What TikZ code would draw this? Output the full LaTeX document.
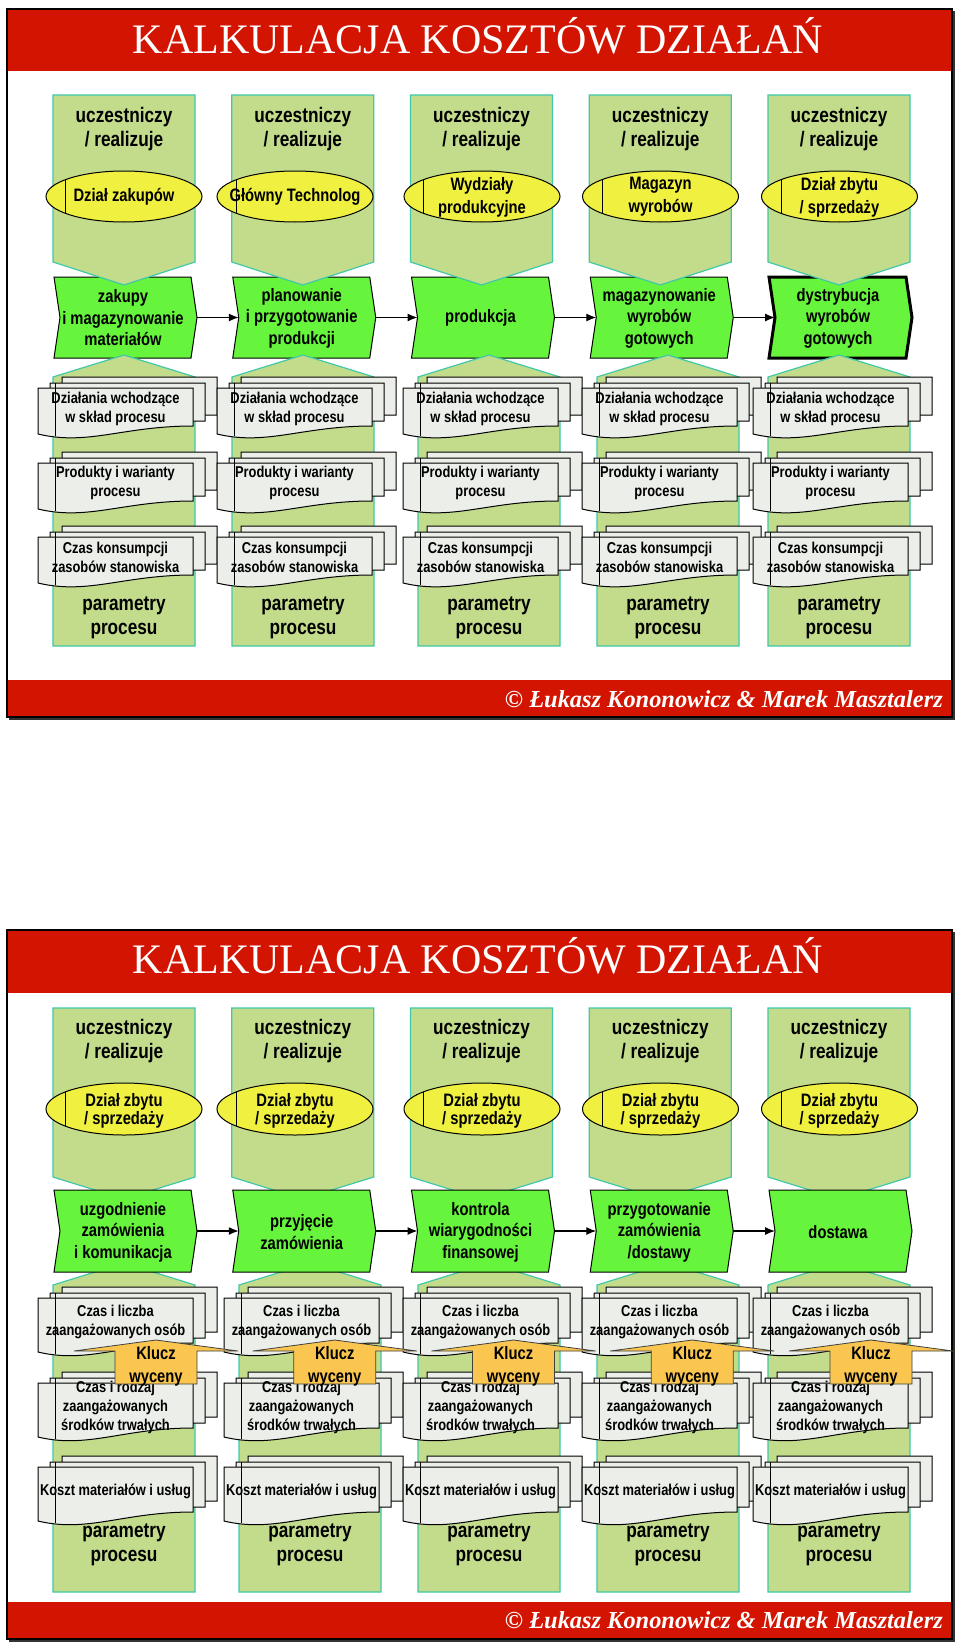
\documentclass[tikz,border=0pt]{standalone}
\usepackage{fontspec}
\setmainfont{Liberation Serif}
\newfontfamily\narrowsans[FakeStretch=0.82]{Liberation Sans}
\usetikzlibrary{
    arrows.meta,   % For arrow tips
    positioning    % For label positioning
}

\definecolor{slidered}{RGB}{210,20,0}
\definecolor{panelgreen}{RGB}{195,220,140}
\definecolor{panelteal}{RGB}{64,200,168}
\definecolor{procgreen}{RGB}{102,245,60}
\definecolor{ovalyellow}{RGB}{240,240,64}
\definecolor{docgray}{RGB}{235,238,233}
\definecolor{keyorange}{RGB}{250,198,80}

% stack of three document pages: name, left x, top y, right height, left height, text offset, text
\newcommand{\docstack}[7]{%
    \foreach \dd/\ee in {24/-11, 12/-5, 0/0} {
        \draw[docpage] ({#2+\dd},{#3+\ee}) -- ({#2+\dd+155},{#3+\ee})
            -- ({#2+\dd+155},{#3+\ee+#4})
            .. controls ({#2+\dd+85},{#3+\ee+#4}) and ({#2+\dd+50},{#3+\ee+#5+12}) .. ({#2+\dd},{#3+\ee+#5})
            -- cycle;
    }
    \draw[docline] ({#2+17},{#3-5}) -- ({#2+17},{#3+#5+2});
    \node[doctxt] (#1) at ({#2+77.5},{#3+#6}) {#7};
}

\begin{document}
\begin{tikzpicture}[
    x=1pt, y=-1pt,
    >=Latex,
    % texts
    bigtxt/.style={font=\narrowsans\bfseries\fontsize{21}{24}\selectfont, align=center, inner sep=0pt},
    boxtxt/.style={font=\narrowsans\bfseries\fontsize{18}{21.5}\selectfont, align=center, inner sep=0pt},
    ovaltxt/.style={font=\narrowsans\bfseries\fontsize{18}{23}\selectfont, align=center, inner sep=0pt},
    ovaltxtb/.style={font=\narrowsans\bfseries\fontsize{18}{18}\selectfont, align=center, inner sep=0pt},
    doctxt/.style={font=\narrowsans\bfseries\fontsize{15.7}{19}\selectfont, align=center, inner sep=0pt},
    keytxt/.style={font=\narrowsans\bfseries\fontsize{18}{23}\selectfont, align=center, inner sep=0pt},
    titletxt/.style={font=\fontsize{42}{48}\selectfont, text=white, inner sep=0pt},
    foottxt/.style={font=\bfseries\itshape\fontsize{24.4}{28}\selectfont, text=white, inner sep=0pt},
    % shapes
    frame/.style={draw=black, line width=2.5pt},
    frameshadow/.style={draw=black!80, line width=1.5pt},
    panel/.style={fill=panelgreen, draw=panelteal, line width=1.2pt},
    procbox/.style={fill=procgreen, draw=black, line join=miter},
    oval/.style={fill=ovalyellow, draw=black, line width=1pt},
    ovalline/.style={draw=black, line width=1pt},
    docpage/.style={fill=docgray, draw=black, line width=1pt},
    docline/.style={draw=black, line width=1pt},
    keyarrow/.style={fill=keyorange, draw=black!75, line width=0.8pt},
    flowarrow/.style={-{Latex[length=10pt, width=8pt]}, line width=1.2pt}
]
    \fill[white] (0,0) rectangle (960,1646);
    \useasboundingbox (0,0) rectangle (960,1646);

    %%%%%%%%%%%%%%%% Slide 1
    \fill[slidered] (8,10) rectangle (951,71);
    \fill[slidered] (8,680) rectangle (951,716);
    \draw[frame] (7,9) rectangle (952,717);
    \draw[frameshadow] (954,11) -- (954,719) -- (9,719);
    \node[titletxt, anchor=base] (title1) at (478,53) {KALKULACJA KOSZTÓW DZIAŁAŃ};
    \node[foottxt, anchor=base east] (foot1) at (943,707) {© Łukasz Kononowicz \& Marek Masztalerz};

    % Process boxes (the panels lie over them here)
    \foreach \i/\w/\txt in {1/1pt/{zakupy\\i magazynowanie\\materiałów},
                            2/1pt/{planowanie\\i przygotowanie\\produkcji},
                            3/1pt/{produkcja},
                            4/1pt/{magazynowanie\\wyrobów\\gotowych},
                            5/3pt/{dystrybucja\\wyrobów\\gotowych}} {
        \pgfmathsetmacro\cx{53+178.75*(\i-1)}
        \draw[procbox, line width=\w] (\cx+1,277) -- (\cx+138,277) -- (\cx+144,317.5)
            -- (\cx+138,358) -- (\cx+1,358) -- (\cx+7,317.5) -- cycle;
        \coordinate (ar\i) at (\cx+144,317.5);
        \coordinate (al\i) at (\cx+7,317.5);
        \node[boxtxt] (p1-\i) at (\cx+70,318) {\txt};
    }
    \foreach \i/\j in {1/2, 2/3, 3/4, 4/5}
        \draw[flowarrow] (ar\i) -- (al\j);

    % Upper panels
    \foreach \i in {1,...,5} {
        \pgfmathsetmacro\cx{53+178.75*(\i-1)}
        \draw[panel] (\cx,95) -- (\cx+142,95) -- (\cx+142,262) -- (\cx+71,285) -- (\cx,262) -- cycle;
        \node[bigtxt] (u1-\i) at (\cx+71,129) {uczestniczy\\/ realizuje};
    }

    % Organisation units
    \foreach \i/\ex/\txt in {1/124/{Dział zakupów}, 2/295/{Główny Technolog},
                             3/482/{Wydziały\\produkcyjne}, 4/660.5/{Magazyn\\wyrobów},
                             5/839.5/{Dział zbytu\\/ sprzedaży}} {
        \draw[oval] (\ex,196.5) ellipse [x radius=78pt, y radius=25.5pt];
        \draw[ovalline] (\ex-58.5,179.6) -- (\ex-58.5,213.4);
        \node[ovaltxt] (e1-\i) at (\ex,197) {\txt};
    }

    % Lower panels with parameter documents
    \foreach \i/\lx in {1/53, 2/232, 3/418, 4/597, 5/768} {
        \draw[panel] (\lx,377) -- (\lx+71,355) -- (\lx+142,377) -- (\lx+142,646) -- (\lx,646) -- cycle;
        \node[bigtxt] (pp1-\i) at (\lx+71,618) {parametry\\procesu};
        \docstack{da1-\i}{\lx-15}{388}{38}{46}{20.5}{Działania wchodzące\\w skład procesu}
        \docstack{pr1-\i}{\lx-15}{463}{38}{46}{20}{Produkty i warianty\\procesu}
        \docstack{cz1-\i}{\lx-15}{537}{38}{46}{20.5}{Czas konsumpcji\\zasobów stanowiska}
    }

    %%%%%%%%%%%%%%%% Slide 2
    \fill[slidered] (8,931) rectangle (951,993);
    \fill[slidered] (8,1602) rectangle (951,1638);
    \draw[frame] (7,930) rectangle (952,1639);
    \draw[frameshadow] (954,932) -- (954,1641) -- (9,1641);
    \node[titletxt, anchor=base] (title2) at (478,973) {KALKULACJA KOSZTÓW DZIAŁAŃ};
    \node[foottxt, anchor=base east] (foot2) at (943,1628) {© Łukasz Kononowicz \& Marek Masztalerz};

    % Upper panels
    \foreach \i in {1,...,5} {
        \pgfmathsetmacro\cx{53+178.75*(\i-1)}
        \draw[panel] (\cx,1008) -- (\cx+142,1008) -- (\cx+142,1177) -- (\cx+71,1199) -- (\cx,1177) -- cycle;
        \node[bigtxt] (u2-\i) at (\cx+71,1041.5) {uczestniczy\\/ realizuje};
    }
    % Lower panels
    \foreach \i/\lx in {1/53, 2/239, 3/418, 4/597, 5/768} {
        \draw[panel] (\lx,1285) -- (\lx+71,1263) -- (\lx+142,1285) -- (\lx+142,1592) -- (\lx,1592) -- cycle;
        \node[bigtxt] (pp2-\i) at (\lx+71,1545) {parametry\\procesu};
    }

    % Process boxes (over the panels here)
    \foreach \i/\txt in {1/{uzgodnienie\\zamówienia\\i komunikacja},
                         2/{przyjęcie\\zamówienia},
                         3/{kontrola\\wiarygodności\\finansowej},
                         4/{przygotowanie\\zamówienia\\/dostawy},
                         5/{dostawa}} {
        \pgfmathsetmacro\cx{53+178.75*(\i-1)}
        \draw[procbox, line width=1pt] (\cx+1,1190) -- (\cx+138,1190) -- (\cx+144,1231)
            -- (\cx+138,1272) -- (\cx+1,1272) -- (\cx+7,1231) -- cycle;
        \coordinate (br\i) at (\cx+144,1231);
        \coordinate (bl\i) at (\cx+7,1231);
        \node[boxtxt] (p2-\i) at (\cx+70,1232) {\txt};
    }
    \foreach \i/\j in {1/2, 2/3, 3/4, 4/5}
        \draw[flowarrow] (br\i) -- (bl\j);

    % Organisation units
    \foreach \i/\ex in {1/124, 2/295, 3/482, 4/660.5, 5/839.5} {
        \draw[oval] (\ex,1109) ellipse [x radius=78pt, y radius=26pt];
        \draw[ovalline] (\ex-58.5,1091.8) -- (\ex-58.5,1126.2);
        \node[ovaltxtb] (e2-\i) at (\ex,1111) {Dział zbytu\\/ sprzedaży};
    }

    % Parameter documents
    \foreach \i/\lx in {1/53, 2/239, 3/418, 4/597, 5/768} {
        \docstack{os2-\i}{\lx-15}{1298}{45}{54}{23.5}{Czas i liczba\\zaangażowanych osób}
        \docstack{sr2-\i}{\lx-15}{1383}{45}{54}{24}{Czas i rodzaj\\zaangażowanych\\środków trwałych}
        \docstack{km2-\i}{\lx-15}{1467}{45}{54}{24}{Koszt materiałów i usług}
    }

    % Cost keys (they cover the tops of the documents below, as in the original)
    \foreach \i in {1,...,5} {
        \pgfmathsetmacro\sx{53+178.75*(\i-1)+62}
        \draw[keyarrow] (\sx-41,1351) -- (\sx+41,1340) -- (\sx+123,1351) -- (\sx+82,1351)
            -- (\sx+82,1384) -- (\sx,1384) -- (\sx,1351) -- cycle;
        \node[keytxt] (k2-\i) at (\sx+41,1366) {Klucz\\wyceny};
    }
\end{tikzpicture}
\end{document}
